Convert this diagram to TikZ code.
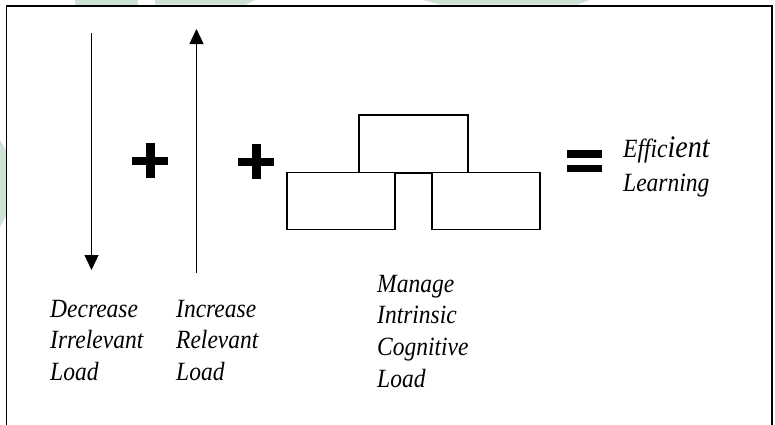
\documentclass[tikz,border=0pt]{standalone}
\usepackage{fontspec}
\usepackage{graphicx}
\setmainfont{Liberation Serif}
\usetikzlibrary{arrows.meta}

\definecolor{hazegreen}{RGB}{206,226,214}
\newcommand{\stretchtext}[1]{\scalebox{1}[1.12]{#1}}

\tikzset{
  frame/.style={draw=black, line width=1.6pt},
  haze/.style={fill=hazegreen, draw=none},
  vline/.style={draw=black, line width=1.4pt},
  headtip/.style={-{Triangle[length=15pt,width=14pt]}},
  blockbox/.style={draw=black, line width=1.5pt, fill=white, rectangle,
    minimum width=108pt, minimum height=57pt, inner sep=0pt},
  symbar/.style={fill=black, draw=none},
  lbl/.style={font=\fontsize{23.5pt}{31.7pt}\selectfont\itshape,
    anchor=base west, inner sep=0pt},
}

\begin{document}
\begin{tikzpicture}[x=1pt, y=-1pt]
\useasboundingbox (0,0) rectangle (775,424);

% faint background tints along the top and left edges
\fill[haze] (75,0) rectangle (138,4.5);
\fill[haze] (155,0) -- (255,0) -- (246,4.5) -- (155,4.5) -- cycle;
\fill[haze] (423,0) -- (590,0) -- (578,4.5) -- (440,4.5) -- cycle;
\fill[haze] (0,140) -- (6,150) -- (6,216) -- (0,227) -- cycle;

% outer frame
\draw[frame] (6.5,6) rectangle (772,440);

% decrease arrow (pointing down) and increase arrow (pointing up)
\coordinate (dtop) at (91.5,33);
\coordinate (dtip) at (91.5,270);
\draw[vline, headtip] (dtop) -- (dtip);
\coordinate (ubot) at (196.5,273);
\coordinate (utip) at (196.5,29);
\draw[vline, headtip] (ubot) -- (utip);

% plus signs
\fill[symbar] (132,156.5) rectangle (168,164.5);
\fill[symbar] (145.5,143) rectangle (154.5,178);
\fill[symbar] (238,157.5) rectangle (274,165.5);
\fill[symbar] (251.5,144) rectangle (260.5,179);

% three stacked blocks
\node[blockbox, minimum width=109pt, minimum height=58pt] (topbox) at (413.5,144) {};
\node[blockbox] (leftbox) at (341,201) {};
\node[blockbox] (rightbox) at (486,201) {};

% equals sign
\fill[symbar] (567,150) rectangle (602,157.5);
\fill[symbar] (567,164.5) rectangle (602,172);

% result label
\node[lbl] (eff) at (623,157) {\stretchtext{Effic{\fontsize{28pt}{31pt}\selectfont ient}}};
\node[lbl] (learn) at (623,191) {\stretchtext{Learning}};

% captions under the arrows and blocks
\node[lbl] (dec1) at (50,317) {\stretchtext{Decrease}};
\node[lbl] (dec2) at (50,348.7) {\stretchtext{Irrelevant}};
\node[lbl] (dec3) at (50,380.4) {\stretchtext{Load}};

\node[lbl] (inc1) at (176,317) {\stretchtext{Increase}};
\node[lbl] (inc2) at (176,348.7) {\stretchtext{Relevant}};
\node[lbl] (inc3) at (176,380.4) {\stretchtext{Load}};

\node[lbl] (man1) at (377,292) {\stretchtext{Manage}};
\node[lbl] (man2) at (377,323.7) {\stretchtext{Intrinsic}};
\node[lbl] (man3) at (377,355.4) {\stretchtext{Cognitive}};
\node[lbl] (man4) at (377,387.1) {\stretchtext{Load}};
\end{tikzpicture}
\end{document}
